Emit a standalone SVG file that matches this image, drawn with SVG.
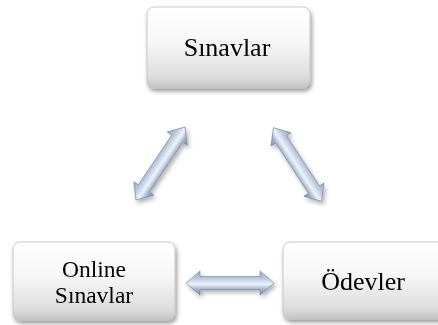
<svg xmlns="http://www.w3.org/2000/svg" width="438" height="325" viewBox="0 0 438 325">
<style>
.box{fill:url(#boxGrad);stroke:#bdbdbd;stroke-width:0.8}
.lbl{font-family:"Liberation Serif","Times New Roman",serif;font-size:26px;fill:#000;text-anchor:middle}
.lbl2{font-size:23.5px}
.arr{fill:url(#arrGrad);stroke:#6f829d;stroke-width:0.6}
</style>
<defs>
<linearGradient id="boxGrad" x1="0" y1="0" x2="0" y2="1">
<stop offset="0" stop-color="#ffffff"/>
<stop offset="0.45" stop-color="#f6f6f6"/>
<stop offset="0.85" stop-color="#dedede"/>
<stop offset="1" stop-color="#c4c4c4"/>
</linearGradient>
<linearGradient id="arrGrad" gradientUnits="userSpaceOnUse" x1="0" y1="-12" x2="0" y2="12">
<stop offset="0" stop-color="#95a8c2"/>
<stop offset="0.3" stop-color="#b9c8dc"/>
<stop offset="0.55" stop-color="#eef3fa"/>
<stop offset="0.75" stop-color="#a6b8cf"/>
<stop offset="1" stop-color="#72879f"/>
</linearGradient>
<filter id="sh" x="-20%" y="-20%" width="150%" height="160%">
<feDropShadow dx="1.5" dy="3" stdDeviation="2.2" flood-color="#000" flood-opacity="0.4"/>
</filter>
<filter id="ash" x="-30%" y="-30%" width="160%" height="160%">
<feDropShadow dx="2" dy="3" stdDeviation="2" flood-color="#000" flood-opacity="0.3"/>
</filter>
<path id="dbl" d="M-44,0 L-30,-12 L-30,-6.5 L30,-6.5 L30,-12 L44,0 L30,12 L30,6.5 L-30,6.5 L-30,12 Z"/>
</defs>
<g id="node-sinavlar" filter="url(#sh)">
<rect class="box" x="147" y="7" width="163" height="81" rx="7"/>
<text class="lbl" x="227" y="56">Sınavlar</text>
</g>
<g id="node-online" filter="url(#sh)">
<rect class="box" x="13" y="242" width="162" height="78" rx="7"/>
<text class="lbl lbl2" x="94" y="277">Online</text>
<text class="lbl lbl2" x="94" y="303">Sınavlar</text>
</g>
<g id="node-odevler" filter="url(#sh)">
<rect class="box" x="283" y="242" width="163" height="77" rx="7"/>
<text class="lbl" x="363" y="290">Ödevler</text>
</g>
<g id="connectors" filter="url(#ash)">
<use href="#dbl" class="arr" transform="translate(160.5,163.5) rotate(-56.1)"/>
<use href="#dbl" class="arr" transform="translate(297.5,164.5) rotate(56.8)"/>
<use href="#dbl" class="arr" transform="translate(230,283)"/>
</g>
</svg>
